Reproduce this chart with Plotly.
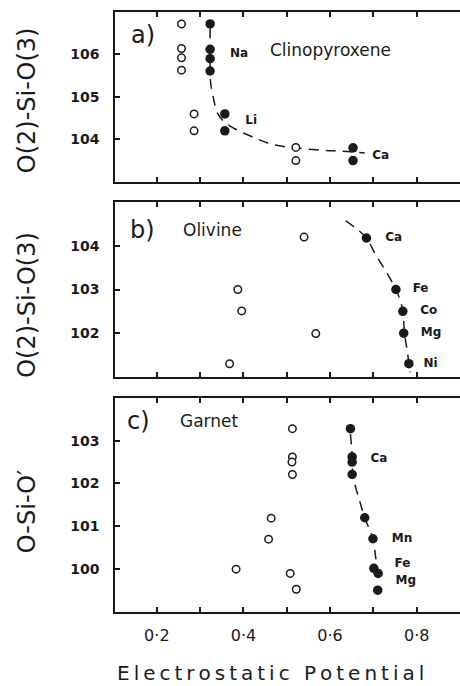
import plotly.graph_objects as go

# ---------------- data ----------------
# panel a) Clinopyroxene
a_open_x = [0.257, 0.257, 0.257, 0.257, 0.286, 0.286, 0.521, 0.521]
a_open_y = [106.72, 106.14, 105.92, 105.63, 104.60, 104.20, 103.81, 103.50]
a_fill_x = [0.323, 0.323, 0.323, 0.323, 0.357, 0.357, 0.653, 0.653]
a_fill_y = [106.72, 106.12, 105.90, 105.61, 104.60, 104.20, 103.80, 103.50]
a_curve_x = [0.323, 0.323, 0.324, 0.330, 0.341, 0.357, 0.380, 0.420, 0.467, 0.520, 0.585, 0.630, 0.680]
a_curve_y = [106.62, 105.70, 105.35, 105.00, 104.60, 104.40, 104.25, 104.06, 103.88, 103.80, 103.74, 103.72, 103.68]
a_labels = ["Na", "Li", "Ca"]
a_label_x = [0.390, 0.418, 0.717]
a_label_y = [106.00, 104.43, 103.60]

# panel b) Olivine
b_open_x = [0.540, 0.387, 0.396, 0.567, 0.368]
b_open_y = [104.20, 103.00, 102.51, 101.99, 101.30]
b_fill_x = [0.684, 0.752, 0.768, 0.770, 0.782]
b_fill_y = [104.18, 103.00, 102.50, 102.00, 101.30]
b_curve_x = [0.636, 0.660, 0.684, 0.705, 0.730, 0.752, 0.762, 0.768, 0.772, 0.778, 0.785]
b_curve_y = [104.57, 104.40, 104.18, 103.80, 103.40, 103.00, 102.75, 102.50, 102.00, 101.60, 101.10]
b_labels = ["Ca", "Fe", "Co", "Mg", "Ni"]
b_label_x = [0.747, 0.809, 0.828, 0.833, 0.832]
b_label_y = [104.18, 103.00, 102.50, 102.00, 101.30]

# panel c) Garnet
c_open_x = [0.513, 0.513, 0.512, 0.513, 0.464, 0.458, 0.383, 0.508, 0.522]
c_open_y = [103.28, 102.62, 102.50, 102.21, 101.19, 100.70, 100.00, 99.90, 99.53]
c_fill_x = [0.647, 0.651, 0.651, 0.651, 0.680, 0.699, 0.701, 0.711, 0.710]
c_fill_y = [103.28, 102.62, 102.50, 102.21, 101.20, 100.71, 100.02, 99.90, 99.51]
c_curve_x = [0.647, 0.650, 0.651, 0.655, 0.668, 0.680, 0.699, 0.705, 0.711]
c_curve_y = [103.15, 102.80, 102.40, 102.08, 101.60, 101.20, 100.71, 100.30, 99.92]
c_labels = ["Ca", "Mn", "Fe", "Mg"]
c_label_x = [0.713, 0.766, 0.767, 0.775]
c_label_y = [102.58, 100.70, 100.13, 99.72]

panel_tags = ["a)", "b)", "c)"]
panel_names = ["Clinopyroxene", "Olivine", "Garnet"]
x_tickvals = [0.2, 0.3, 0.4, 0.5, 0.6, 0.7, 0.8]
x_ticktext = ["0·2", "", "0·4", "", "0·6", "", "0·8"]
a_yticks = [104, 105, 106]
b_yticks = [102, 103, 104]
c_yticks = [100, 101, 102, 103]
y_titles = ["O(2)-Si-O(3)", "O(2)-Si-O(3)", "O-Si-O′"]
x_title = "Electrostatic Potential"

FONT = "DejaVu Sans"
INK = "#1a1a1a"

fig = go.Figure()

panels = [
    (a_open_x, a_open_y, a_fill_x, a_fill_y, a_curve_x, a_curve_y, a_labels, a_label_x, a_label_y),
    (b_open_x, b_open_y, b_fill_x, b_fill_y, b_curve_x, b_curve_y, b_labels, b_label_x, b_label_y),
    (c_open_x, c_open_y, c_fill_x, c_fill_y, c_curve_x, c_curve_y, c_labels, c_label_x, c_label_y),
]
axis_ids = [("x", "y"), ("x2", "y2"), ("x3", "y3")]

for (ox, oy, fx, fy, cx, cy, labs, lx, ly), (xa, ya) in zip(panels, axis_ids):
    fig.add_trace(go.Scatter(x=cx, y=cy, mode="lines", xaxis=xa, yaxis=ya,
                             line=dict(color=INK, width=1.5, dash="10px,7px", shape="spline"),
                             hoverinfo="skip", showlegend=False))
    fig.add_trace(go.Scatter(x=ox, y=oy, mode="markers", xaxis=xa, yaxis=ya,
                             marker=dict(symbol="circle", size=7.5, color="white",
                                         line=dict(color=INK, width=1.5)),
                             showlegend=False))
    fig.add_trace(go.Scatter(x=fx, y=fy, mode="markers", xaxis=xa, yaxis=ya,
                             marker=dict(symbol="circle", size=9.5, color=INK,
                                         line=dict(width=0)),
                             showlegend=False))
    fig.add_trace(go.Scatter(x=lx, y=ly, mode="text", text=labs, xaxis=xa, yaxis=ya,
                             textposition="middle center",
                             textfont=dict(family=FONT, size=12, color=INK, weight="bold"),
                             hoverinfo="skip", showlegend=False))

X_RANGE = [0.1034, 0.9]
domains = [[0.717, 1.0], [0.392, 0.683], [0.0, 0.357]]
y_ranges = [[103, 107], [101, 105], [99, 104]]
y_ticks = [a_yticks, b_yticks, c_yticks]

common_x = dict(range=X_RANGE, showgrid=False, zeroline=False, showline=True,
                linecolor=INK, linewidth=1.5, mirror="ticks", ticks="inside",
                ticklen=5, tickwidth=1.5, tickcolor=INK, automargin=False,
                tickvals=x_tickvals, ticktext=x_ticktext)

layout = dict(
    width=460, height=686,
    margin=dict(l=115, r=0, t=12, b=74, autoexpand=False),
    paper_bgcolor="white", plot_bgcolor="white",
    font=dict(family=FONT, color=INK),
    showlegend=False,
)

for i in range(3):
    sx = "" if i == 0 else str(i + 1)
    layout["xaxis" + sx] = dict(common_x, anchor="y" + sx,
                                showticklabels=(i == 2),
                                tickfont=dict(family=FONT, size=16, color=INK),
                                ticklabelstandoff=8)
    layout["yaxis" + sx] = dict(range=y_ranges[i], domain=domains[i], anchor="x" + sx,
                                showgrid=False, zeroline=False, showline=True,
                                linecolor=INK, linewidth=1.5, ticks="inside", mirror=False,
                                ticklen=5, tickwidth=1.5, tickcolor=INK, automargin=False,
                                tickvals=y_ticks[i], ticktext=[str(v) for v in y_ticks[i]],
                                tickfont=dict(family=FONT, size=14, color=INK, weight="bold"),
                                ticklabelstandoff=11)
    # right-hand inside ticks (no frame line, as in the reference)
    layout["yaxis" + str(i + 4)] = dict(range=y_ranges[i], overlaying="y" + sx, anchor="x" + sx,
                                        side="right", showgrid=False, zeroline=False,
                                        showline=False, ticks="inside", ticklen=5,
                                        tickwidth=1.5, tickcolor=INK, automargin=False,
                                        tickvals=y_ticks[i], showticklabels=False)

fig.update_layout(**layout)

# panel tags and mineral names
tag_pos = [(0.168, 106.47), (0.168, 104.37), (0.157, 103.45)]
name_pos = [(0.600, 106.10), (0.329, 104.36), (0.322, 103.45)]
for i in range(3):
    sx = "" if i == 0 else str(i + 1)
    fig.add_annotation(x=tag_pos[i][0], y=tag_pos[i][1], xref="x" + sx, yref="y" + sx,
                       text=panel_tags[i], showarrow=False,
                       font=dict(family=FONT, size=24, color=INK))
    fig.add_annotation(x=name_pos[i][0], y=name_pos[i][1], xref="x" + sx, yref="y" + sx,
                       text=panel_names[i], showarrow=False,
                       font=dict(family=FONT, size=17, color=INK))

# y-axis titles
ytitle_centers = [0.853, 0.512, 0.168]
for i in range(3):
    fig.add_annotation(x=-0.255, y=ytitle_centers[i], xref="paper", yref="paper",
                       text=y_titles[i], textangle=-90, showarrow=False,
                       xanchor="center", yanchor="middle",
                       font=dict(family=FONT, size=24, color=INK))

# x-axis title
fig.add_annotation(x=0.452, y=-0.102, xref="paper", yref="paper",
                   text="\u2009".join(x_title), showarrow=False,
                   xanchor="center", yanchor="middle",
                   font=dict(family=FONT, size=20, color=INK))

fig.write_html("out.html",
               config={"displayModeBar": False},
               post_script="document.body.style.margin='0px';"
                           "document.body.style.overflow='hidden';")
